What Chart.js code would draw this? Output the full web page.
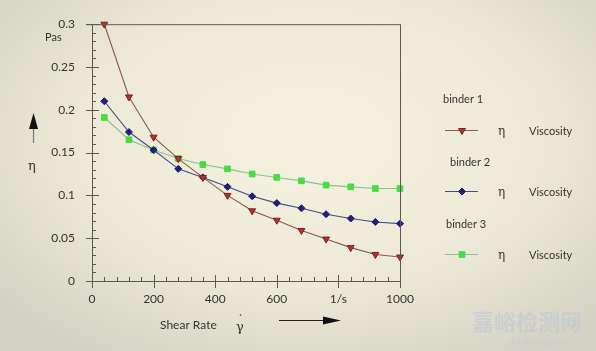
<!DOCTYPE html>
<html>
<head>
<meta charset="utf-8">
<script src="https://cdn.jsdelivr.net/npm/chart.js@4/dist/chart.umd.min.js"></script>
<style>
  html, body { margin: 0; padding: 0; }
  body {
    width: 596px; height: 351px; overflow: hidden;
    background: radial-gradient(ellipse 70% 75% at 52% 40%, #f5f2e0 0%, #ece9d6 55%, #d2d0c3 100%);
  }
  #wrap { position: relative; width: 596px; height: 351px; }
</style>
</head>
<body>
<div id="wrap"><canvas id="chart" width="596" height="351"></canvas></div>
<script>
// shear rate (1/s)
const shearRate = [40, 120, 200, 280, 360, 440, 520, 600, 680, 760, 840, 920, 1000];
// viscosity (Pas)
const binder1 = [0.300, 0.215, 0.168, 0.143, 0.121, 0.100, 0.082, 0.071, 0.059, 0.049, 0.039, 0.031, 0.028];
const binder2 = [0.210, 0.174, 0.153, 0.131, 0.121, 0.110, 0.099, 0.091, 0.085, 0.078, 0.073, 0.069, 0.067];
const binder3 = [0.191, 0.165, 0.153, 0.143, 0.136, 0.131, 0.125, 0.121, 0.117, 0.112, 0.110, 0.108, 0.108];
const seriesNames = ['binder 1', 'binder 2', 'binder 3'];
const xTickLabels = { 0: '0', 200: '200', 400: '400', 600: '600', 800: '1/s', 1000: '1000' };

const FONT = 'Lato, "Open Sans", sans-serif';
const TEXT = '#34342f';
const AXIS = '#5a5a55';

const STYLES = [
  { line: '#8a5a48', fill: '#b8302c', border: '#7a2020', point: 'triangle', rotation: 180, radius: 4 },
  { line: '#4a4a86', fill: '#1e1e84', border: '#1a1a66', point: 'rectRot', radius: 3.5 },
  { line: '#8fc08a', fill: '#3fe23c', border: '#52d24e', point: 'rect', radius: 4 },
];

function toPoints(ys) {
  return shearRate.map((x, i) => ({ x, y: ys[i] }));
}

const datasets = [binder1, binder2, binder3].map((ys, i) => ({
  label: seriesNames[i],
  data: toPoints(ys),
  borderColor: STYLES[i].line,
  borderWidth: 1.1,
  backgroundColor: STYLES[i].fill,
  pointBackgroundColor: STYLES[i].fill,
  pointBorderColor: STYLES[i].border,
  pointBorderWidth: 1,
  pointStyle: STYLES[i].point,
  pointRotation: STYLES[i].rotation || 0,
  pointRadius: STYLES[i].radius,
  tension: 0,
  clip: false,
}));

function drawMarker(ctx, st, x, y) {
  const r = st.radius;
  ctx.beginPath();
  if (st.point === 'triangle') {
    ctx.moveTo(x, y + r);
    ctx.lineTo(x + r * 0.87, y - r * 0.5);
    ctx.lineTo(x - r * 0.87, y - r * 0.5);
    ctx.closePath();
  } else if (st.point === 'rectRot') {
    ctx.moveTo(x, y - r); ctx.lineTo(x + r, y); ctx.lineTo(x, y + r); ctx.lineTo(x - r, y);
    ctx.closePath();
  } else {
    const s = r * 0.707;
    ctx.rect(x - s, y - s, s * 2, s * 2);
  }
  ctx.fill();
  ctx.stroke();
}

// frame, tick marks, arrows, axis titles, legend
const decorPlugin = {
  id: 'decor',
  afterDraw(chart) {
    const ctx = chart.ctx;
    const xs = chart.scales.x, ys = chart.scales.y;
    const area = chart.chartArea;
    ctx.save();

    // top and right frame lines
    ctx.strokeStyle = AXIS;
    ctx.lineWidth = 1;
    ctx.beginPath();
    ctx.moveTo(86, area.top + 0.5);
    ctx.lineTo(area.right, area.top + 0.5);
    ctx.moveTo(area.right + 0.5, area.top);
    ctx.lineTo(area.right + 0.5, area.bottom + 4);
    ctx.moveTo(86, area.bottom + 0.5);
    ctx.lineTo(area.left, area.bottom + 0.5);
    ctx.moveTo(area.left + 0.5, area.bottom);
    ctx.lineTo(area.left + 0.5, area.bottom + 5);
    ctx.stroke();

    // y ticks
    ctx.beginPath();
    for (let v = 0; v <= 30; v++) {
      const py = Math.round(ys.getPixelForValue(v / 100)) + 0.5;
      if (v % 5 === 0) {
        ctx.moveTo(area.left - 6, py); ctx.lineTo(area.left + 7, py);
      } else {
        ctx.moveTo(area.left, py); ctx.lineTo(area.left + 4, py);
      }
    }
    // x ticks
    for (let v = 0; v <= 1000; v += 40) {
      const px = Math.round(xs.getPixelForValue(v)) + 0.5;
      if (v % 200 === 0) {
        ctx.moveTo(px, area.bottom - 6); ctx.lineTo(px, area.bottom + 7);
      } else {
        ctx.moveTo(px, area.bottom - 4); ctx.lineTo(px, area.bottom);
      }
    }
    ctx.stroke();

    // axis titles
    ctx.fillStyle = TEXT;
    ctx.font = '11px ' + FONT;
    ctx.textBaseline = 'middle';
    ctx.textAlign = 'left';
    ctx.fillText('Pas', 45, 37);
    ctx.font = '12px ' + FONT;
    ctx.fillText('Shear Rate', 160, 325);
    ctx.font = '13px "DejaVu Serif", serif';
    ctx.fillText('\u03B7', 28, 167);
    ctx.fillText('\u03B3', 236, 328);
    ctx.beginPath();
    ctx.arc(240.5, 315, 0.8, 0, Math.PI * 2);
    ctx.fill();

    // up arrow
    ctx.strokeStyle = '#777';
    ctx.lineWidth = 1.2;
    ctx.beginPath();
    ctx.moveTo(33.5, 143); ctx.lineTo(33.5, 126);
    ctx.stroke();
    ctx.fillStyle = '#111';
    ctx.beginPath();
    ctx.moveTo(33.5, 113); ctx.lineTo(38, 129); ctx.lineTo(29, 129); ctx.closePath();
    ctx.fill();

    // right arrow
    ctx.strokeStyle = '#222';
    ctx.lineWidth = 1.2;
    ctx.beginPath();
    ctx.moveTo(279, 320.5); ctx.lineTo(324, 320.5);
    ctx.stroke();
    ctx.beginPath();
    ctx.moveTo(341, 320.5); ctx.lineTo(323, 316.5); ctx.lineTo(323, 324.5); ctx.closePath();
    ctx.fill();

    // legend
    const legendRows = [
      { title: 99, titleX: 443, line: 130 },
      { title: 162, titleX: 450, line: 191 },
      { title: 224, titleX: 446, line: 254 },
    ];
    legendRows.forEach((row, i) => {
      const st = STYLES[i];
      ctx.fillStyle = TEXT;
      ctx.font = '11px ' + FONT;
      ctx.textAlign = 'left';
      ctx.fillText(seriesNames[i], row.titleX, row.title);
      ctx.fillText('Viscosity', 529, row.line + 1);
      ctx.font = '12px "DejaVu Serif", serif';
      ctx.fillText('\u03B7', 498, row.line + 2);

      ctx.strokeStyle = st.line;
      ctx.lineWidth = 1.1;
      ctx.beginPath();
      ctx.moveTo(445, row.line + 0.5); ctx.lineTo(478, row.line + 0.5);
      ctx.stroke();
      ctx.fillStyle = st.fill;
      ctx.strokeStyle = st.border;
      ctx.lineWidth = 1;
      drawMarker(ctx, st, 462, row.line + 0.5);
    });

    // watermark
    ctx.textAlign = 'left';
    ctx.fillStyle = 'rgba(190,196,214,0.55)';
    ctx.font = 'bold 22px "Noto Sans CJK SC", sans-serif';
    ctx.fillText('嘉峪检测网', 472, 322);
    ctx.font = 'italic 9px ' + FONT;
    ctx.fillText('AnyTesting.com', 510, 342);

    ctx.restore();
  }
};

new Chart(document.getElementById('chart'), {
  type: 'line',
  data: { datasets },
  options: {
    responsive: false,
    animation: false,
    events: [],
    layout: { padding: { top: 18, right: 196, left: 0, bottom: 0 } },
    plugins: { legend: { display: false }, tooltip: { enabled: false } },
    scales: {
      x: {
        type: 'linear',
        min: 0,
        max: 1000,
        grid: { display: false, drawTicks: false },
        border: { display: true, color: AXIS, width: 1 },
        ticks: {
          stepSize: 200,
          padding: 11,
          maxRotation: 0,
          autoSkip: false,
          color: TEXT,
          font: { family: FONT, size: 12 },
          callback: v => xTickLabels[v] !== undefined ? xTickLabels[v] : '',
        },
        afterFit: s => { s.height = 70; },
      },
      y: {
        min: 0,
        max: 0.3,
        grid: { display: false, drawTicks: false },
        border: { display: true, color: AXIS, width: 1 },
        ticks: {
          stepSize: 0.05,
          padding: 17,
          color: TEXT,
          font: { family: FONT, size: 12 },
          callback: v => String(+v.toFixed(2)),
        },
        afterFit: s => { s.width = 92; },
      },
    },
  },
  plugins: [decorPlugin],
});
</script>
</body>
</html>
